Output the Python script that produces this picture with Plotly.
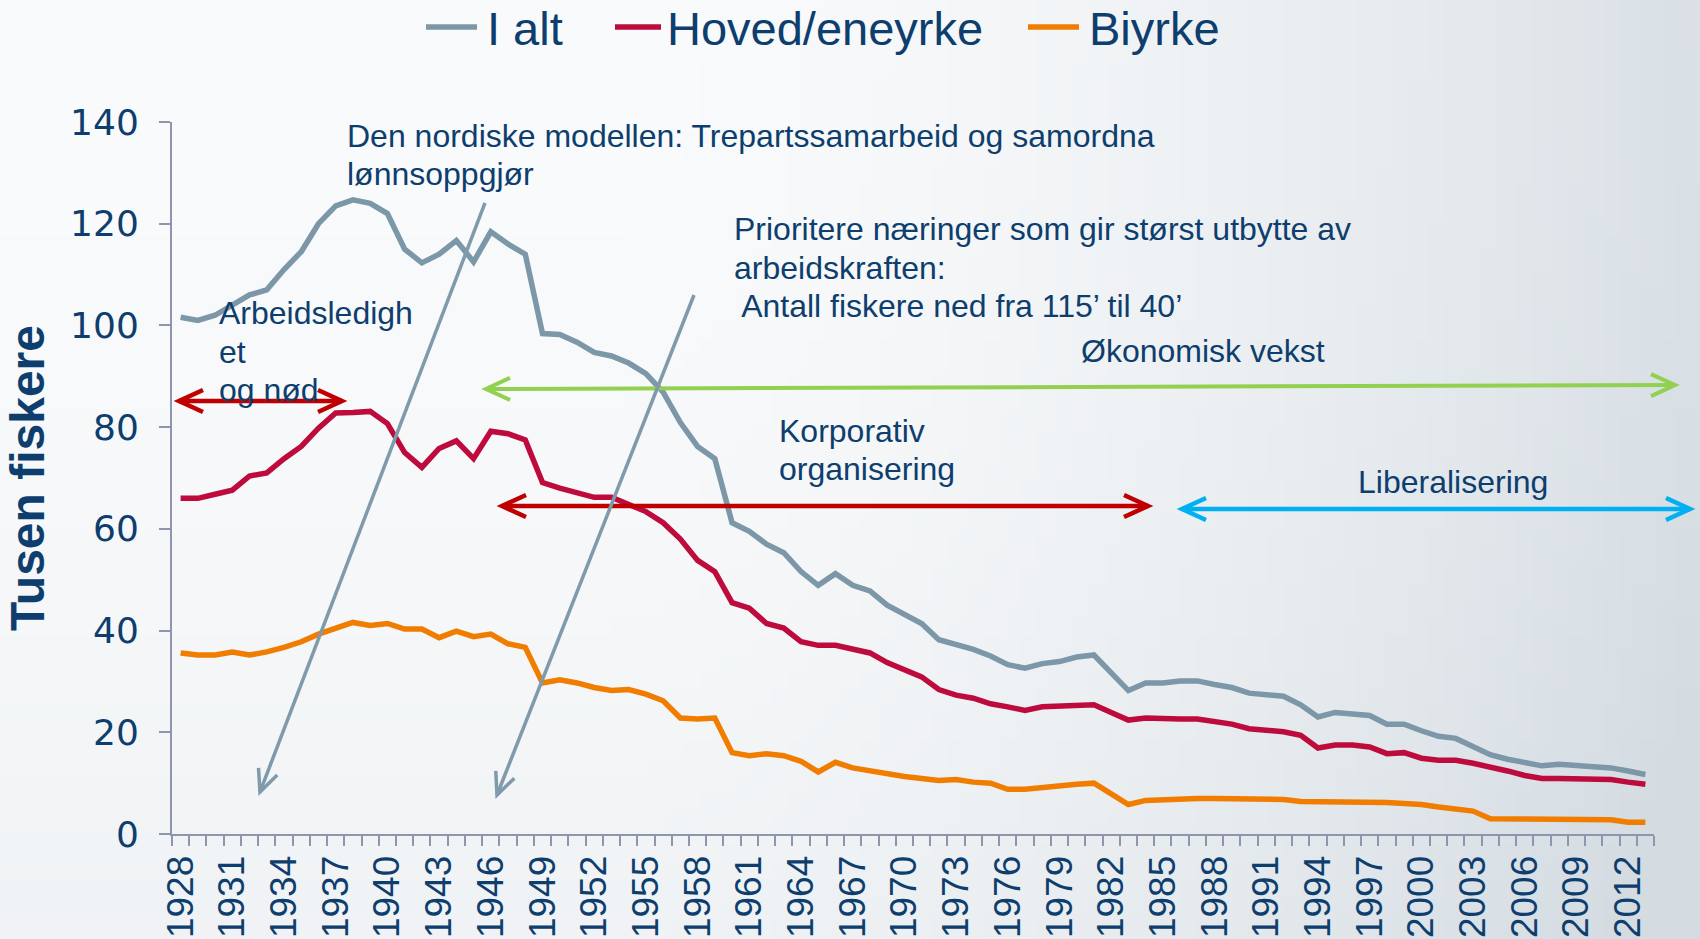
import base64, struct, zlib, math
import plotly.graph_objects as go

# ---------------- data ----------------
years = list(range(1928, 2014))

i_alt = [101.6, 101.0, 102.0, 104.0, 106.0, 107.0, 111.0, 114.5, 120.0, 123.5,
         124.7, 124.0, 122.0, 115.0, 112.3, 114.0, 116.7, 112.5, 118.4, 116.0,
         114.0, 98.4, 98.2, 96.7, 94.7, 94.0, 92.6, 90.5, 86.9, 80.9,
         76.2, 73.8, 61.2, 59.5, 57.0, 55.3, 51.6, 48.9, 51.2, 48.9,
         47.8, 45.0, 43.1, 41.4, 38.2, 37.3, 36.3, 35.0, 33.3, 32.6,
         33.5, 33.9, 34.8, 35.2, 31.8, 28.2, 29.7, 29.7, 30.1, 30.1,
         29.4, 28.8, 27.7, 27.3, 27.1, 25.4, 23.0, 23.9, 23.7, 23.3,
         21.6, 21.6, 20.3, 19.2, 18.8, 17.3, 15.6, 14.7, 14.1, 13.4,
         13.7, 13.4, 13.2, 13.0, 12.4, 11.7]

hoved = [66.0, 66.0, 66.8, 67.6, 70.4, 71.0, 73.8, 76.2, 79.8, 82.8,
         82.9, 83.1, 80.7, 75.0, 72.1, 75.8, 77.3, 73.8, 79.2, 78.7,
         77.5, 69.1, 68.0, 67.2, 66.2, 66.2, 64.7, 63.4, 61.2, 58.0,
         53.8, 51.6, 45.5, 44.4, 41.4, 40.5, 37.8, 37.1, 37.1, 36.3,
         35.6, 33.7, 32.2, 30.9, 28.4, 27.3, 26.7, 25.6, 25.0, 24.3,
         25.0, 25.2, 25.4, 25.4, 23.9, 22.4, 22.8, 22.6, 22.6, 22.6,
         22.2, 21.6, 20.7, 20.3, 20.1, 19.4, 16.9, 17.5, 17.5, 17.1,
         15.8, 16.0, 14.9, 14.5, 14.5, 13.9, 13.2, 12.4, 11.5, 10.9,
         10.9, 10.9, 10.7, 10.7, 10.2, 9.8]

biyrke = [35.6, 35.2, 35.2, 35.8, 35.2, 35.8, 36.7, 37.8, 39.3, 40.5,
          41.6, 41.0, 41.4, 40.3, 40.3, 38.6, 39.9, 38.8, 39.3, 37.4,
          36.7, 29.7, 30.3, 29.7, 28.8, 28.2, 28.4, 27.5, 26.2, 22.8,
          22.6, 22.8, 16.0, 15.4, 15.8, 15.4, 14.3, 12.2, 14.1, 13.0,
          12.4, 11.7, 11.3, 10.9, 10.5, 10.7, 10.2, 10.0, 8.8, 8.8,
          9.2, 9.4, 9.8, 10.0, 7.9, 5.8, 6.6, 6.8, 7.0, 7.0,
          7.0, 7.0, 6.8, 6.8, 6.8, 6.4, 6.4, 6.4, 6.4, 6.4,
          6.2, 6.0, 5.8, 5.3, 4.9, 4.5, 3.0, 3.0, 3.0, 2.8,
          3.0, 2.8, 2.8, 2.8, 2.3, 2.3]

series_names = ["I alt", "Hoved/eneyrke", "Biyrke"]
tick_years = list(range(1928, 2013, 3))
y_ticks = [0, 20, 40, 60, 80, 100, 120, 140]

# ---------------- style ----------------
W, H = 1700, 939
L, R, T, B = 172, 46, 122, 105
PW, PH = W - L - R, H - T - B
TXT = "#0d3e6d"
AX = "#8d96ad"
COLORS = ["#7b97a8", "#be0b3d", "#f07d00"]
FONT = "Liberation Sans, Arial, sans-serif"
TICKFONT = "DejaVu Sans, Liberation Sans, sans-serif"


def px(x, y):
    """pixel -> paper coords"""
    return (x - L) / PW, (H - B - y) / PH


# ---------------- gradient background (generated PNG) ----------------
def make_png(w, h, func):
    rows = []
    for j in range(h):
        row = bytearray([0])
        for i in range(w):
            row.extend(func(i / (w - 1), j / (h - 1)))
        rows.append(bytes(row))
    raw = b"".join(rows)

    def chunk(tag, data):
        return (struct.pack(">I", len(data)) + tag + data +
                struct.pack(">I", zlib.crc32(tag + data) & 0xffffffff))
    return (b"\x89PNG\r\n\x1a\n" +
            chunk(b"IHDR", struct.pack(">IIBBBBB", w, h, 8, 2, 0, 0, 0)) +
            chunk(b"IDAT", zlib.compress(raw, 9)) + chunk(b"IEND", b""))


def grad(u, v):
    light = (249, 250, 251)
    dark = (212, 220, 226)
    t = max(0.0, (u - 0.35) / 0.65) ** 1.8 * 0.85 + 0.25 * v ** 2
    t = min(1.0, t)
    return bytes(int(round(light[k] + (dark[k] - light[k]) * t)) for k in range(3))


png = make_png(96, 54, grad)
bg_uri = "data:image/png;base64," + base64.b64encode(png).decode()

fig = go.Figure()

for name, vals, col in zip(series_names, [i_alt, hoved, biyrke], COLORS):
    fig.add_trace(go.Scatter(x=years, y=vals, name=name, mode="lines",
                             line=dict(color=col, width=5.5),
                             showlegend=False))

shapes = []
annotations = []


def seg(points, color, width):
    pts = [px(x, y) for x, y in points]
    path = "M " + " L ".join(f"{a:.5f},{b:.5f}" for a, b in pts)
    shapes.append(dict(type="path", path=path, xref="paper", yref="paper",
                       line=dict(color=color, width=width), layer="above"))


def chevron(tip, frm, color, width, length=24, half=11):
    dx, dy = tip[0] - frm[0], tip[1] - frm[1]
    d = math.hypot(dx, dy)
    ux, uy = dx / d, dy / d
    nx, ny = -uy, ux
    bx, by = tip[0] - ux * length, tip[1] - uy * length
    seg([(bx + nx * half, by + ny * half), tip,
         (bx - nx * half, by - ny * half)], color, width)


def arrow(p0, p1, color, width, double=True, length=24, half=11):
    seg([p0, p1], color, width)
    chevron(p1, p0, color, width, length, half)
    if double:
        chevron(p0, p1, color, width, length, half)


RED = "#c00000"
arrow((179, 401), (342, 401), RED, 4.5)
arrow((486, 389), (1675, 385), "#92d050", 4)
arrow((502, 506), (1148, 506), RED, 4.5)
arrow((1182, 509), (1690, 509), "#00b0f0", 4.5)
arrow((485, 203), (260, 792), "#7f9aab", 3.5, double=False, length=22, half=10)
arrow((694, 295), (497, 795), "#7f9aab", 3.5, double=False, length=22, half=10)


def text(x, y, s, size=32, anchor="left", yanchor="middle"):
    ax, ay = px(x, y)
    annotations.append(dict(x=ax, y=ay, xref="paper", yref="paper", text=s,
                            showarrow=False, xanchor=anchor, yanchor=yanchor,
                            font=dict(family=FONT, size=size, color=TXT)))


text(345, 136, "Den nordiske modellen: Trepartssamarbeid og samordna")
text(345, 174, "lønnsoppgjør")
text(732, 229, "Prioritere næringer som gir størst utbytte av")
text(732, 268, "arbeidskraften:")
text(732, 306, " Antall fiskere ned fra 115’ til 40’")
text(217, 313, "Arbeidsledigh")
text(217, 352, "et")
text(217, 390, "og nød")
text(1079, 351, "Økonomisk vekst")
text(777, 431, "Korporativ")
text(777, 469, "organisering")
text(1453, 482, "Liberalisering", anchor="center")

# manual legend
leg = [(426, 477, 485), (615, 661, 665), (1028, 1079, 1087)]
for (x0, x1, tx), name, col in zip(leg, series_names, COLORS):
    a0, b0 = px(x0, 27)
    a1, _ = px(x1, 27)
    shapes.append(dict(type="line", xref="paper", yref="paper", x0=a0, x1=a1,
                       y0=b0, y1=b0, line=dict(color=col, width=5.5)))
    text(tx, 0.5, name, size=47, yanchor="top")

img_x, img_y = px(0, 0)
fig.update_layout(
    width=W, height=H,
    margin=dict(l=L, r=R, t=T, b=B, autoexpand=False),
    paper_bgcolor="#f4f6f7",
    plot_bgcolor="rgba(0,0,0,0)",
    font=dict(family=FONT, color=TXT),
    shapes=shapes,
    annotations=annotations,
    images=[dict(source=bg_uri, xref="paper", yref="paper", x=img_x, y=img_y,
                 sizex=W / PW, sizey=H / PH, sizing="stretch",
                 xanchor="left", yanchor="top", layer="below")],
    xaxis=dict(range=[1927.5, 2013.5], tickmode="array", tickvals=tick_years,
               ticktext=[str(y) for y in tick_years], tickangle=-90,
               ticks="", showgrid=False, zeroline=False, automargin=False,
               showline=True, linecolor=AX, linewidth=2,
               tickfont=dict(family=FONT, size=37, color=TXT),
               ticklabelstandoff=5,
               minor=dict(tickmode="array",
                          tickvals=[1927.5 + k for k in range(87)],
                          ticks="outside", ticklen=10, tickwidth=2,
                          tickcolor=AX, showgrid=False)),
    yaxis=dict(range=[0, 140], tickmode="array", tickvals=y_ticks,
               ticks="outside", ticklen=11, tickwidth=2, tickcolor=AX,
               showgrid=False, zeroline=False, showline=True, automargin=False,
               linecolor=AX, linewidth=2,
               tickfont=dict(family=TICKFONT, size=36, color=TXT),
               ticklabelstandoff=13,
               title=dict(text="<b>Tusen fiskere</b>", standoff=10,
                          font=dict(family=FONT, size=48, color=TXT))),
)

fig.write_html("out.html",
               config={"displayModeBar": False},
               post_script="document.body.style.margin='0px';"
                           "document.body.style.overflow='hidden';")
